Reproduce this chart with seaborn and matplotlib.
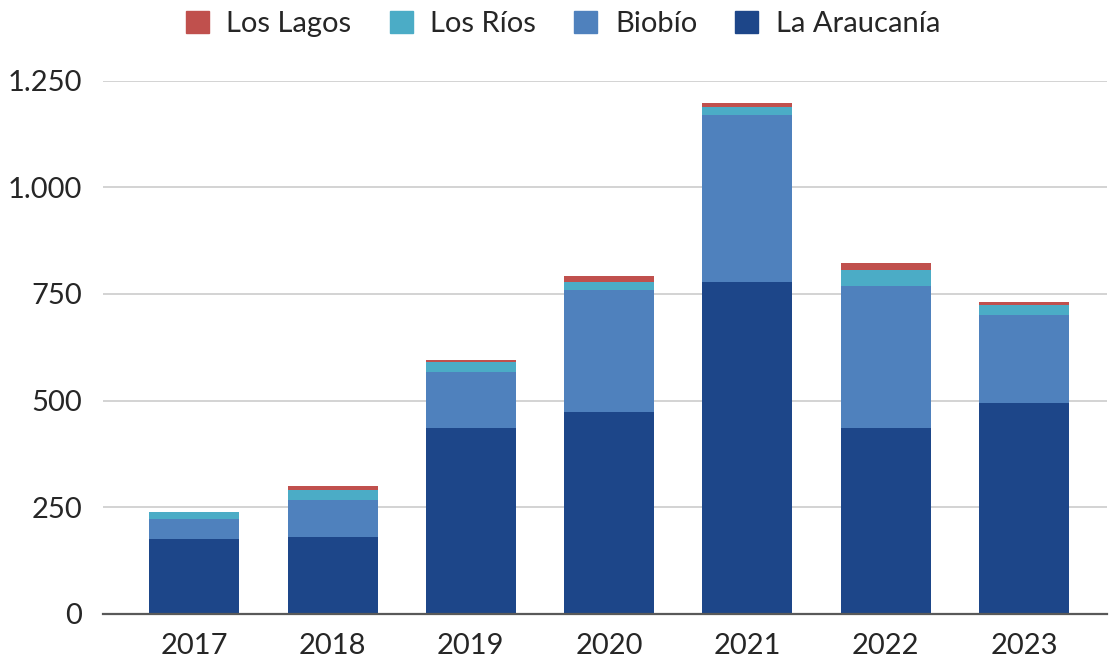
import matplotlib
matplotlib.use("Agg")
import matplotlib.pyplot as plt
import matplotlib.patches as mpatches
import numpy as np
import pandas as pd
import seaborn as sns

# Data
YEARS = ["2017", "2018", "2019", "2020", "2021", "2022", "2023"]
ARAUCANIA = [175, 180, 436, 474, 778, 435, 494]
BIOBIO = [48, 87, 130, 285, 391, 334, 206]
LOS_RIOS = [15, 23, 24, 19, 19, 38, 24]
LOS_LAGOS = [0, 10, 5, 15, 10, 15, 6]

SERIES = ["La Araucanía", "Biobío", "Los Ríos", "Los Lagos"]
COLORS = {
    "La Araucanía": "#1D4689",
    "Biobío": "#4F81BD",
    "Los Ríos": "#4BACC6",
    "Los Lagos": "#C0504D",
}
TEXT = "#262626"
GRID = "#D0D0D0"

sns.set_theme(style="white")
plt.rcParams["font.family"] = ["Lato", "DejaVu Sans"]

df = pd.DataFrame({
    "year": YEARS,
    "La Araucanía": ARAUCANIA,
    "Biobío": BIOBIO,
    "Los Ríos": LOS_RIOS,
    "Los Lagos": LOS_LAGOS,
})
cum = df[SERIES].cumsum(axis=1)

fig = plt.figure(figsize=(11.09, 6.62), dpi=100)
ax = fig.add_axes([103 / 1109, 1 - 614 / 662, (1107 - 103) / 1109, (614 - 80.5) / 662])

# stacked bars: draw the cumulative totals from top layer down
for name in reversed(SERIES):
    sns.barplot(x=df["year"], y=cum[name], color=COLORS[name], width=0.65,
                saturation=1, ax=ax, linewidth=0, zorder=3)

ax.set_ylim(0, 1250)
ax.set_xlim(-0.66, 6.6)
ax.set_yticks([0, 250, 500, 750, 1000, 1250])
ax.yaxis.set_major_formatter(plt.FuncFormatter(lambda v, _: f"{int(v):,}".replace(",", ".")))
ax.yaxis.grid(True, color=GRID, linewidth=1.3, zorder=0)
ax.set_axisbelow(True)
ax.set_xlabel("")
ax.set_ylabel("")
ax.tick_params(axis="both", length=0, labelsize=21, colors=TEXT)
ax.tick_params(axis="y", pad=15)
ax.tick_params(axis="x", pad=14)
for side in ["top", "right", "left"]:
    ax.spines[side].set_visible(False)
ax.spines["bottom"].set_color("#595959")
ax.spines["bottom"].set_linewidth(1.6)
ax.spines["bottom"].set_zorder(5)

handles = [mpatches.Patch(color=COLORS[n], label=n) for n in ["Los Lagos", "Los Ríos", "Biobío", "La Araucanía"]]
fig.legend(handles=handles, loc="center", bbox_to_anchor=(563 / 1109, 1 - 24 / 662), ncol=4,
           frameon=False, fontsize=21, handlelength=0.8, handleheight=0.8,
           handletextpad=0.6, columnspacing=1.3, labelcolor=TEXT)

fig.savefig("out.png", dpi=100, facecolor="white")
